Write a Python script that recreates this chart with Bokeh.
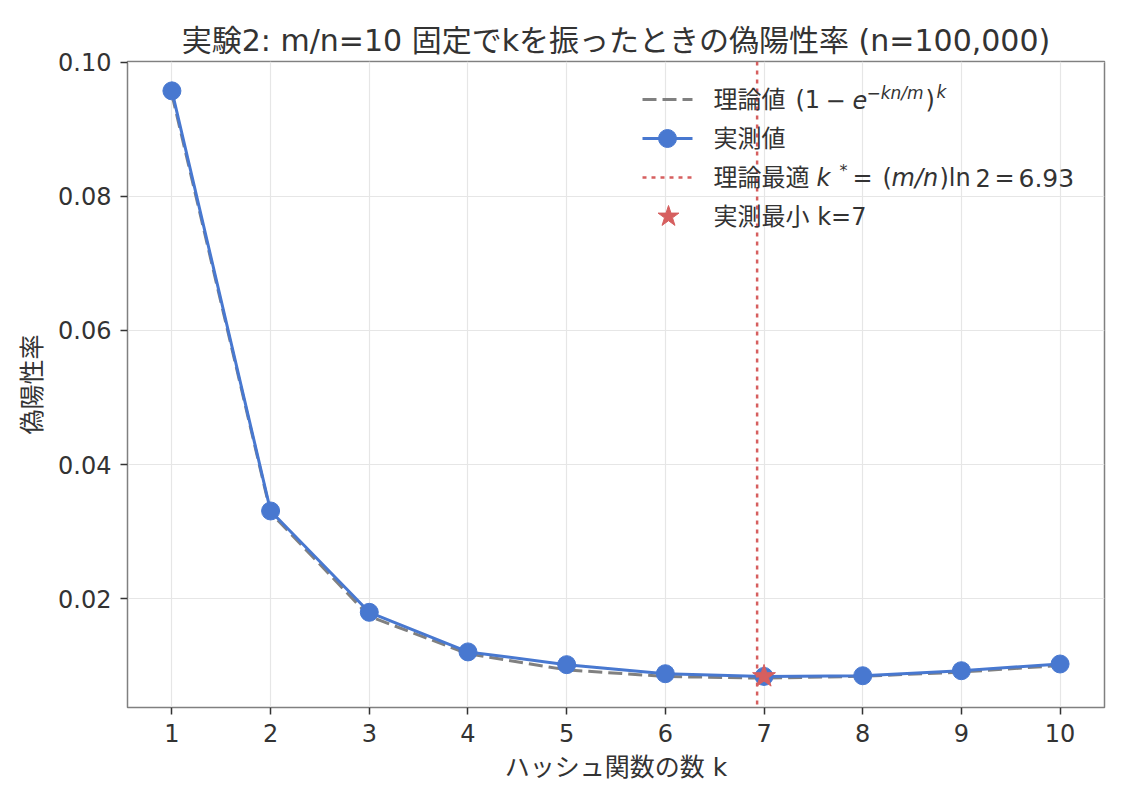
from bokeh.plotting import figure
from bokeh.models import Range1d, FixedTicker, NumeralTickFormatter, Label, Span
from bokeh.embed import file_html
from bokeh.resources import INLINE

# Bloom filter, m/n = 10, n = 100,000: false positive rate vs number of hash functions
k_values = [1, 2, 3, 4, 5, 6, 7, 8, 9, 10]
fpr_theory = [0.09516, 0.03286, 0.01741, 0.01181, 0.009431, 0.008435, 0.008193, 0.008463, 0.009100, 0.01008]
fpr_measured = [0.0957, 0.0331, 0.0180, 0.0121, 0.0102, 0.00885, 0.00845, 0.00855, 0.0093, 0.0103]
k_opt = 6.93
k_best = 7
fpr_best = 0.00845

x_ticks = [1, 2, 3, 4, 5, 6, 7, 8, 9, 10]
y_ticks = [0.02, 0.04, 0.06, 0.08, 0.10]

# Latin glyphs from DejaVu Sans, Japanese glyphs fall back to Noto Sans CJK JP
FONT = "'DejaVu Sans', 'Noto Sans CJK JP'"
TXT = "#333333"
BLUE = "#4878d0"
RED = "#d65f5f"
GRAY = "#808080"

W, H = 1126, 803
FL, FR, FT, FB = 127, 1104, 61, 707
X0, X1 = 0.55, 10.45
Y0, Y1 = 0.003818, 0.100075

p = figure(width=W, height=H, output_backend="svg", toolbar_location=None,
           x_range=Range1d(X0, X1), y_range=Range1d(Y0, Y1),
           min_border_left=FL, min_border_right=W - FR,
           min_border_top=FT, min_border_bottom=H - FB)
p.background_fill_color = "white"
p.border_fill_color = "white"
p.outline_line_color = GRAY
p.outline_line_width = 1.5

p.title.text = "実験2: m/n=10 固定でkを振ったときの偽陽性率 (n=100,000)"
p.title.text_font = FONT
p.title.text_font_size = "30px"
p.title.text_font_style = "normal"
p.title.text_color = TXT
p.title.align = "center"
p.title.standoff = 8

p.xaxis.ticker = FixedTicker(ticks=x_ticks)
p.yaxis.ticker = FixedTicker(ticks=y_ticks)
p.yaxis.formatter = NumeralTickFormatter(format="0.00")
p.xaxis.axis_label = "ハッシュ関数の数 k"
p.yaxis.axis_label = "偽陽性率"
for ax in (p.xaxis, p.yaxis):
    ax.axis_line_color = None
    ax.major_tick_in = 0
    ax.major_tick_out = 7
    ax.major_tick_line_color = TXT
    ax.major_tick_line_width = 1.5
    ax.minor_tick_line_color = None
    ax.major_label_text_font = FONT
    ax.major_label_text_font_size = "24px"
    ax.major_label_text_color = TXT
    ax.major_label_standoff = 9
    ax.axis_label_text_font = FONT
    ax.axis_label_text_font_size = "25px"
    ax.axis_label_text_font_style = "normal"
    ax.axis_label_text_color = TXT
    ax.axis_label_standoff = 8

p.grid.grid_line_color = "#e6e6e6"
p.grid.grid_line_width = 1.2

# curves
p.line(k_values, fpr_theory, line_color=GRAY, line_width=3, line_dash="14 6")
p.line(k_values, fpr_measured, line_color=BLUE, line_width=3)
p.scatter(k_values, fpr_measured, size=18, fill_color=BLUE, line_color=BLUE)
p.add_layout(Span(location=k_opt, dimension="height", line_color=RED,
                  line_width=2.5, line_dash="4 5"))
p.scatter([k_best], [fpr_best], marker="star", size=24, fill_color=RED, line_color=RED)


# legend, placed by pixel position inside the frame
def px_x(px):
    return X0 + (px - FL) / (FR - FL) * (X1 - X0)


def px_y(py):
    return Y1 - (py - FT) / (FB - FT) * (Y1 - Y0)


def txt(px, py, s, size=24, italic=False):
    p.add_layout(Label(x=px_x(px), y=px_y(py), text=s, text_font=FONT,
                       text_font_size=f"{size}px", text_color=TXT,
                       text_font_style="italic" if italic else "normal",
                       text_baseline="middle", text_align="left"))


r1, r2, r3, r4 = 99, 138, 177, 216
gx0, gx1 = 642, 692
p.line([px_x(gx0), px_x(gx1)], [px_y(r1)] * 2, line_color=GRAY, line_width=3, line_dash="14 6")
p.line([px_x(gx0), px_x(gx1)], [px_y(r2)] * 2, line_color=BLUE, line_width=3)
p.scatter([px_x(667)], [px_y(r2)], size=18, fill_color=BLUE, line_color=BLUE)
p.line([px_x(gx0), px_x(gx1)], [px_y(r3)] * 2, line_color=RED, line_width=2.5, line_dash="4 5")
p.scatter([px_x(668)], [px_y(r4)], marker="star", size=22, fill_color=RED, line_color=RED)

# 理論値 (1 − e^{−kn/m})^k
txt(713, r1, "理論値")
txt(795, r1, "(1")
txt(825, r1, "−")
txt(852, r1, "e", italic=True)
txt(866, r1 - 7, "−kn/m", size=17, italic=True)
txt(925, r1, ")")
txt(936, r1 - 8, "k", size=17, italic=True)

txt(713, r2, "実測値")

# 理論最適 k* = (m/n) ln 2 = 6.93
txt(713, r3, "理論最適")
txt(816, r3, "k", italic=True)
txt(839, r3 - 7, "*", size=16)
txt(852, r3, "=")
txt(882, r3, "(")
txt(891, r3, "m/n", italic=True)
txt(939, r3, ")ln")
txt(975, r3, "2")
txt(994, r3, "=")
txt(1018, r3, "6.93", size=25)

txt(713, r4, "実測最小 k=7")

open("out.html", "w").write(file_html(p, INLINE))
